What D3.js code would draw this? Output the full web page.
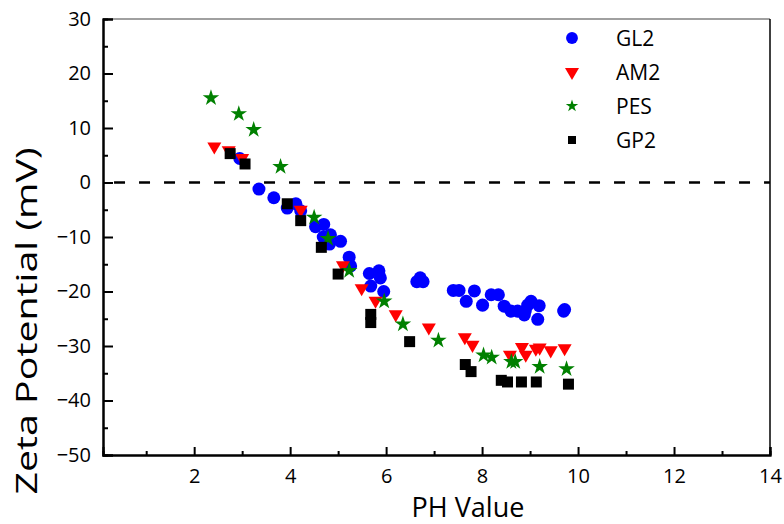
<!DOCTYPE html>
<html><head><meta charset="utf-8">
<script src="https://cdn.jsdelivr.net/npm/d3@7/dist/d3.min.js"></script>
<style>body{margin:0;background:#fff}svg{display:block}text{font-family:"Open Sans",sans-serif;fill:#000}</style>
</head><body><svg id="c" width="784" height="524"></svg>
<script>
const seriesNames = ["GL2", "AM2", "PES", "GP2"];
const seriesColors = ["#0000FF", "#FF0000", "#008000", "#000000"];
const gl2X = [2.95,3.35,3.66,3.94,4.12,4.22,4.53,4.70,4.69,4.84,4.82,5.05,5.23,5.26,5.65,5.68,5.85,5.88,5.95,6.64,6.71,6.77,7.40,7.52,7.67,7.84,8.01,8.19,8.34,8.46,8.60,8.74,8.88,8.90,8.95,9.02,9.19,9.16,9.70,9.72];
const gl2Y = [4.4,-1.2,-2.8,-4.7,-3.9,-5.2,-8.1,-7.7,-10.0,-9.6,-11.3,-10.8,-13.7,-15.3,-16.7,-19.0,-16.2,-17.5,-20.0,-18.2,-17.5,-18.2,-19.8,-19.8,-21.8,-19.9,-22.5,-20.6,-20.6,-22.7,-23.6,-23.6,-24.3,-23.6,-22.5,-21.8,-22.6,-25.1,-23.6,-23.3];
const am2X = [2.42,2.72,3.00,4.22,5.10,5.49,5.78,6.20,6.89,7.64,7.80,8.58,8.83,8.91,9.12,9.20,9.43,9.72];
const am2Y = [6.6,5.9,4.5,-5.0,-15.2,-19.4,-21.7,-24.2,-26.6,-28.4,-29.8,-31.6,-30.2,-31.6,-30.5,-30.3,-30.8,-30.4];
const pesX = [2.35,2.93,3.24,3.80,4.50,4.79,5.23,5.96,6.35,7.09,8.03,8.20,8.61,8.69,9.20,9.76];
const pesY = [15.5,12.6,9.7,2.9,-6.4,-10.3,-16.2,-21.8,-26.0,-29.0,-31.7,-32.1,-32.9,-32.9,-33.8,-34.2];
const gp2X = [2.75,3.06,3.94,4.22,4.65,5.00,5.68,5.68,6.49,7.65,7.77,8.40,8.53,8.82,9.13,9.80];
const gp2Y = [5.3,3.4,-3.9,-7.0,-11.9,-16.8,-24.2,-25.7,-29.2,-33.4,-34.7,-36.3,-36.6,-36.6,-36.6,-37.0];
const xMajorTicks = [2,4,6,8,10,12,14];
const xMinorTicks = [1,3,5,7,9,11,13];
const yMajorTicks = [30,20,10,0,-10,-20,-30,-40,-50];
const yMinorTicks = [25,15,5,-5,-15,-25,-35,-45];

const svg = d3.select("#c");
const L = 103, R = 770, T = 19, B = 455;
const x = d3.scaleLinear().domain([0.1, 14]).range([L, R]);
const y = d3.scaleLinear().domain([-50, 30]).range([B, T]);

// frame: top gray, right black
svg.append("line").attr("x1", L).attr("x2", R).attr("y1", T).attr("y2", T).attr("stroke", "#808080").attr("stroke-width", 1.5);
svg.append("line").attr("x1", R).attr("x2", R).attr("y1", T).attr("y2", B).attr("stroke", "#000").attr("stroke-width", 1.5);

// zero dashed line
svg.append("line").attr("x1", x(0.33)).attr("x2", R).attr("y1", y(0)).attr("y2", y(0))
  .attr("stroke", "#000").attr("stroke-width", 2.5).attr("stroke-dasharray", "11,14");

// axes
svg.append("g").attr("transform", `translate(0,${B})`)
  .call(d3.axisBottom(x).tickValues(xMajorTicks).tickSize(-8).tickPadding(14).tickFormat(d3.format("d")));
svg.append("g").attr("transform", `translate(0,${B})`)
  .call(d3.axisBottom(x).tickValues(xMinorTicks).tickSize(-4).tickFormat(""));
svg.append("g").attr("transform", `translate(${L},0)`)
  .call(d3.axisLeft(y).tickValues(yMajorTicks).tickSize(-10).tickPadding(12).tickFormat(d3.format("d")));
svg.append("g").attr("transform", `translate(${L},0)`)
  .call(d3.axisLeft(y).tickValues(yMinorTicks).tickSize(-5).tickFormat(""));
svg.selectAll(".domain").attr("stroke", "#000").attr("stroke-width", 2);
svg.selectAll(".tick line").attr("stroke", "#000").attr("stroke-width", 2);
svg.selectAll(".tick text").attr("font-family", "Open Sans").attr("font-size", 20).attr("fill", "#000");

// titles
svg.append("text").attr("x", 468).attr("y", 517).attr("text-anchor", "middle")
  .attr("font-size", 27).text("PH Value");
svg.append("text").attr("transform", "translate(37,321) rotate(-90)").attr("text-anchor", "middle")
  .attr("font-size", 30).attr("textLength", 347).attr("lengthAdjust", "spacingAndGlyphs")
  .text("Zeta Potential (mV)");

// series
const series = [
  {xs: gl2X, ys: gl2Y, type: d3.symbolCircle, size: 133, rot: 0, lsize: 110},
  {xs: am2X, ys: am2Y, type: d3.symbolTriangle, size: 85, rot: 180, lsize: 85},
  {xs: pesX, ys: pesY, type: d3.symbolStar, size: 85, rot: 0, lsize: 48},
  {xs: gp2X, ys: gp2Y, type: d3.symbolSquare, size: 121, rot: 0, lsize: 64}
];
series.forEach((s, i) => {
  const sym = d3.symbol().type(s.type).size(s.size);
  svg.append("g").selectAll("path").data(s.xs.map((v, j) => [v, s.ys[j]])).join("path")
    .attr("d", sym)
    .attr("transform", d => `translate(${x(d[0])},${y(d[1])}) rotate(${s.rot})`)
    .attr("fill", seriesColors[i]);
});

// legend
const legY = [38, 72, 106, 140];
series.forEach((s, i) => {
  svg.append("path").attr("d", d3.symbol().type(s.type).size(s.lsize))
    .attr("transform", `translate(572,${legY[i]}) rotate(${s.rot})`).attr("fill", seriesColors[i]);
  svg.append("text").attr("x", 616).attr("y", legY[i]).attr("dy", "0.36em")
    .attr("font-size", 21).text(seriesNames[i]);
});
</script></body></html>
